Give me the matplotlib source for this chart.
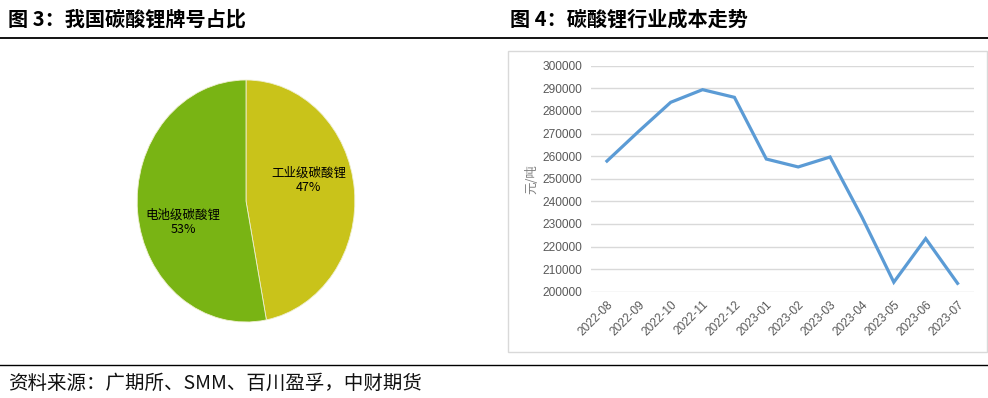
import matplotlib.pyplot as plt
from matplotlib.patches import Rectangle
from matplotlib.lines import Line2D

plt.rcParams['font.family'] = ['Noto Sans CJK SC', 'DejaVu Sans']

# 图3 数据
grades = ['工业级碳酸锂', '电池级碳酸锂']
shares = [47, 53]
pie_colors = ['#C9C31A', '#79B414']

# 图4 数据
months = ['2022-08', '2022-09', '2022-10', '2022-11', '2022-12', '2023-01',
          '2023-02', '2023-03', '2023-04', '2023-05', '2023-06', '2023-07']
cost = [257800, 271000, 283800, 289400, 286000, 258700,
        255200, 259600, 233000, 204200, 223500, 203700]
yticks = list(range(200000, 300001, 10000))

W, H = 988, 398
fig = plt.figure(figsize=(W / 100, H / 100), dpi=100)

def fx(px):
    return px / W

def fy(py):
    return 1 - py / H

# titles and rules
fig.text(fx(8), fy(19), '图 3：我国碳酸锂牌号占比', fontsize=14.5, fontweight='bold',
         va='center', ha='left')
fig.text(fx(510), fy(19), '图 4：碳酸锂行业成本走势', fontsize=14.5, fontweight='bold',
         va='center', ha='left')
fig.add_artist(Line2D([0, 1], [fy(38), fy(38)], color='black', lw=1.3))
fig.add_artist(Line2D([0, 1], [fy(365), fy(365)], color='black', lw=1.0))
fig.text(fx(8), fy(383), '资料来源：广期所、SMM、百川盈孚，中财期货', fontsize=14,
         va='center', ha='left', color='#111111')

# pie (slightly taller than wide, like the original)
axp = fig.add_axes([fx(135), fy(322), fx(357) - fx(135), fy(80) - fy(322)])
axp.pie(shares, colors=pie_colors, startangle=90, counterclock=False,
        wedgeprops=dict(edgecolor='#EFEFD0', linewidth=0.6))
axp.set_aspect('auto')
axp.set_xlim(-1.02, 1.02)
axp.set_ylim(-1.0, 1.0)
axp.text(0.577, 0.174, f'{grades[0]}\n{shares[0]}%', ha='center', va='center',
         fontsize=9, linespacing=1.15)
axp.text(-0.577, -0.174, f'{grades[1]}\n{shares[1]}%', ha='center', va='center',
         fontsize=9, linespacing=1.15)

# chart border for line chart
fig.add_artist(Rectangle((fx(508), fy(352)), fx(987) - fx(508), fy(51) - fy(352),
                         transform=fig.transFigure, fill=False,
                         edgecolor='#D9D9D9', lw=1))

axl = fig.add_axes([fx(591), fy(291.7), fx(973.5) - fx(591), fy(65.7) - fy(291.7)])
x = list(range(len(months)))
axl.plot(x, cost, color='#5B9BD5', lw=2.3, solid_joinstyle='miter')
axl.set_xlim(-0.5, len(months) - 0.5)
axl.set_ylim(200000, 300000)
axl.set_yticks(yticks)
axl.set_yticklabels([str(v) for v in yticks], fontsize=8.6, color='#595959',
                    family='Liberation Sans')
axl.set_xticks(x)
axl.set_xticklabels(months, rotation=45, ha='right', va='top', rotation_mode='anchor',
                    fontsize=8.6, color='#595959', family='Liberation Sans')
axl.tick_params(axis='both', length=0)
axl.tick_params(axis='y', pad=6.5)
axl.tick_params(axis='x', pad=5)
axl.grid(axis='y', color='#D9D9D9', lw=1)
axl.set_axisbelow(True)
for s in axl.spines.values():
    s.set_visible(False)
axl.set_ylabel('元/吨', fontsize=9, color='#7F7F7F', labelpad=3)

fig.savefig('out.png', dpi=100)
